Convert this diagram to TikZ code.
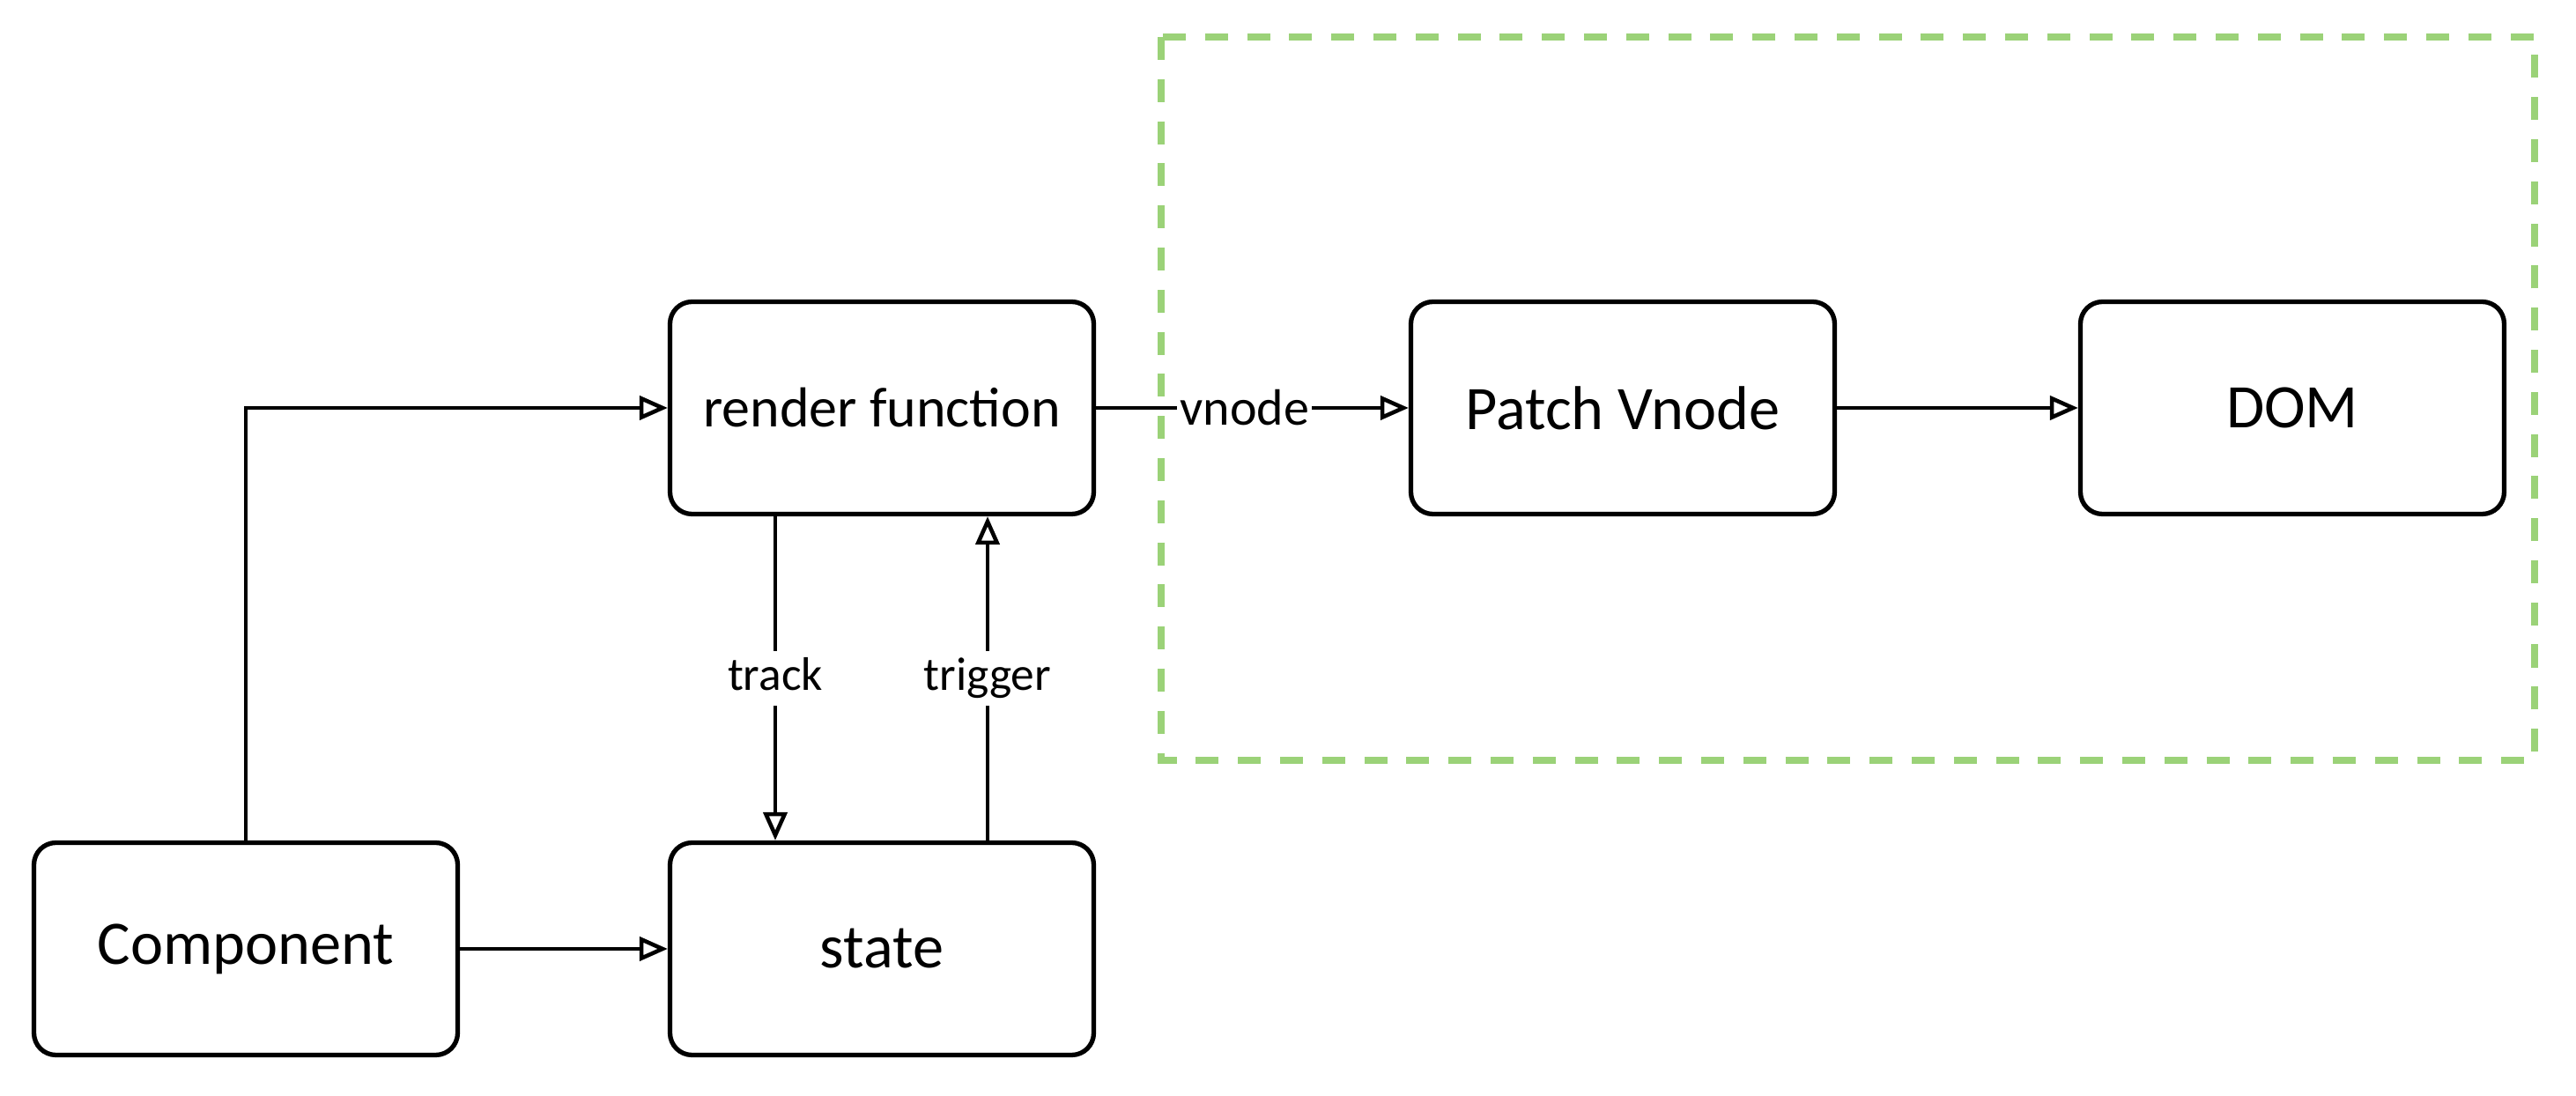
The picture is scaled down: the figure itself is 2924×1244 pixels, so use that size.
\documentclass[tikz,border=0pt]{standalone}
\usepackage{fontspec}
\setmainfont{Carlito}
\usepackage{tikz}
\usetikzlibrary{arrows.meta,positioning}
\definecolor{dashgreen}{RGB}{155,210,120}

\begin{document}
\begin{tikzpicture}[x=0.1mm,y=-0.1mm,node distance=60mm,on grid,
	box/.style={draw,line width=1.5pt,rounded corners=2.5mm,
		minimum width=48.1mm,minimum height=24.1mm,
		font=\fontsize{20}{24}\selectfont},
	arr/.style={-{Triangle[open,length=3.2mm,width=2.7mm]},line width=1.3pt},
	lbl/.style={fill=white,inner xsep=1pt,inner ysep=1.5pt,
		text height=11pt,text depth=3.5pt,font=\fontsize{15.2}{18}\selectfont}]
	\useasboundingbox (0,0) rectangle (2924,1244);
	% patch + DOM region
	\draw[dashgreen,line width=2.3pt,dash pattern=on 7.4pt off 6.2pt]
		(1318,42) rectangle (2877,863);
	\node[box,font=\fontsize{18.2}{22}\selectfont] (render) at (1001,463) {render function};
	\node[box,right=84.1mm of render] (patch) {Patch Vnode};
	\node[box,right=76mm of patch] (dom) {DOM};
	\node[box,below=61.4mm of render] (state) {state};
	\node[box,left=72.2mm of state] (comp) {Component};
	\draw[arr] (comp.north) |- (render.west);
	\draw[arr] (comp) -- (state);
	\draw[arr] ([xshift=-12.1mm]render.south) -- node[lbl] {track} ([xshift=-12.1mm]state.north);
	\draw[arr] ([xshift=12mm]state.north) -- node[lbl] {trigger} ([xshift=12mm]render.south);
	\draw[arr] (render) -- node[lbl,pos=0.475,font=\fontsize{16.5}{20}\selectfont,text height=,text depth=,inner ysep=0pt] {vnode} (patch);
	\draw[arr] (patch) -- (dom);
\end{tikzpicture}
\end{document}
